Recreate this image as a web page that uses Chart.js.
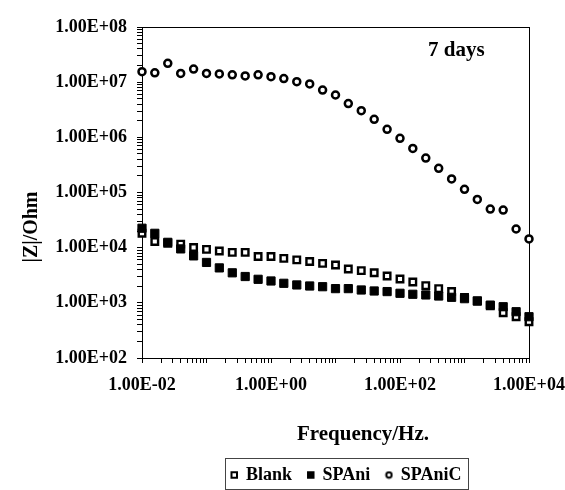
<!DOCTYPE html>
<html><head><meta charset="utf-8">
<script src="https://cdn.jsdelivr.net/npm/chart.js@4.4.1/dist/chart.umd.min.js"></script>
<style>html,body{margin:0;padding:0;background:#fff;}#wrap{width:565px;height:490px;position:relative;}</style>
</head><body><div id="wrap"><canvas id="c" width="565" height="490"></canvas></div>
<script>
// ---- data ----
const frequencies = [0.01, 0.0158, 0.0251, 0.0398, 0.0631, 0.1, 0.158, 0.251, 0.398, 0.631, 1, 1.58, 2.51, 3.98, 6.31, 10, 15.8, 25.1, 39.8, 63.1, 100, 158, 251, 398, 631, 1000, 1580, 2510, 3980, 6310, 10000];
const blank  = [18200, 12900, 12000, 11600, 10100, 9300, 8700, 8200, 8200, 6900, 6900, 6400, 6000, 5600, 5200, 4850, 4100, 3830, 3500, 3070, 2710, 2390, 2050, 1810, 1600, 1250, 1080, 880, 660, 560, 455];
const spani  = [22500, 18200, 12500, 9500, 7100, 5400, 4300, 3500, 3000, 2670, 2490, 2260, 2110, 2020, 1960, 1810, 1810, 1710, 1640, 1600, 1490, 1430, 1390, 1330, 1260, 1190, 1080, 910, 850, 690, 560];
const spanic = [15500000, 14800000, 22000000, 14400000, 17300000, 14400000, 14100000, 13600000, 13000000, 13600000, 12600000, 11600000, 10200000, 9300000, 7200000, 5850000, 4100000, 3040000, 2120000, 1400000, 960000, 630000, 420000, 274000, 176000, 114000, 75000, 50000, 48000, 21800, 14400];
const seriesNames = ['Blank', 'SPAni', 'SPAniC'];
const xRange = [0.01, 10000];
const yRange = [100, 100000000];
const xLabelEvery = 2;   // x labels on every second decade
const xTitle = 'Frequency/Hz.';
const yTitle = '|Z|/Ohm';
const note = '7 days';

const FONT = "'Liberation Serif', 'Times New Roman', serif";

function isPow10(v) { const l = Math.log10(v); return Math.abs(l - Math.round(l)) < 1e-9; }
function sci(v) {
  const e = Math.round(Math.log10(v));
  const m = v / Math.pow(10, e);
  return m.toFixed(2) + 'E' + (e < 0 ? '-' : '+') + String(Math.abs(e)).padStart(2, '0');
}
function logTicks(scale) {
  const lo = Math.round(Math.log10(scale.min)), hi = Math.round(Math.log10(scale.max));
  const t = [];
  for (let e = lo; e < hi; e++) for (let m = 1; m <= 9; m++) t.push({value: Number((m * Math.pow(10, e)).toPrecision(6))});
  t.push({value: Math.pow(10, hi)});
  scale.ticks = t;
}
const toXY = (vals) => frequencies.map((f, i) => ({x: f, y: vals[i]}));

// small legend symbol for the circle series
const circleIcon = (() => {
  const c = document.createElement('canvas'); c.width = 9; c.height = 9;
  const g = c.getContext('2d');
  g.fillStyle = '#fff'; g.strokeStyle = '#000'; g.lineWidth = 2;
  g.beginPath(); g.arc(4.5, 4.5, 2.7, 0, Math.PI * 2); g.fill(); g.stroke();
  return c;
})();

const deco = {
  id: 'deco',
  afterLayout(chart) {
    const lg = chart.legend;
    if (!lg || !lg.lineWidths) return;
    const p = lg.options.labels.padding;
    const W = lg.right - lg.left;
    const newLeft = 231.5 - (p + W - lg.lineWidths[0]) / 2;
    const dx = newLeft - lg.left;
    lg.left += dx; lg.right += dx;
    const fs = lg.options.labels.font.size;
    const dy = (475 - fs / 2 - p) - lg.top;
    lg.top += dy; lg.bottom += dy;
  },
  beforeDatasetsDraw(chart) {
    const {ctx, chartArea: a} = chart;
    ctx.save();
    ctx.strokeStyle = '#000'; ctx.lineWidth = 1;
    ctx.strokeRect(Math.round(a.left) + 0.5, Math.round(a.top) + 0.5, Math.round(a.right - a.left), Math.round(a.bottom - a.top));
    ctx.restore();
  },
  afterDraw(chart) {
    const ctx = chart.ctx;
    ctx.save();
    ctx.fillStyle = '#000';
    ctx.font = 'bold 21px ' + FONT;
    ctx.textAlign = 'center'; ctx.textBaseline = 'alphabetic';
    ctx.fillText(xTitle, 363, 440);
    ctx.textAlign = 'left';
    ctx.fillText(note, 428, 56);
    ctx.font = 'bold 20px ' + FONT;
    ctx.translate(32, 227); ctx.rotate(-Math.PI / 2);
    ctx.textAlign = 'center'; ctx.textBaseline = 'middle';
    ctx.fillText(yTitle, 0, 0);
    ctx.restore();
    const lg = chart.legend;
    if (lg && lg.legendHitBoxes && lg.legendHitBoxes.length) {
      const hb = lg.legendHitBoxes, last = hb[hb.length - 1];
      ctx.save();
      ctx.strokeStyle = '#444'; ctx.lineWidth = 1;
      const l = Math.round(hb[0].left - 7), r = Math.round(last.left + last.width + 7);
      ctx.strokeRect(l + 0.5, 458.5, r - l, 31);
      ctx.restore();
    }
  }
};

new Chart(document.getElementById('c'), {
  type: 'line',
  data: {
    datasets: [
      {label: seriesNames[0], data: toXY(blank), showLine: false, pointStyle: 'rect', pointRadius: 4.6, pointBorderWidth: 2.4, backgroundColor: '#fff', borderColor: '#000', borderWidth: 2, pointBackgroundColor: '#fff', pointBorderColor: '#000', clip: false, order: 2},
      {label: seriesNames[1], data: toXY(spani), showLine: false, pointStyle: 'rect', pointRadius: 5.8, pointBorderWidth: 1, backgroundColor: '#000', borderColor: '#000', borderWidth: 2, pointBackgroundColor: '#000', pointBorderColor: '#000', clip: false, order: 1},
      {label: seriesNames[2], data: toXY(spanic), showLine: false, pointStyle: 'circle', pointRadius: 3.5, pointBorderWidth: 2.5, backgroundColor: '#fff', borderColor: '#000', borderWidth: 2, pointBackgroundColor: '#fff', pointBorderColor: '#000', clip: false, order: 0}
    ]
  },
  options: {
    responsive: false, animation: false, devicePixelRatio: 1,
    layout: {padding: {left: 0, top: 27, right: 36, bottom: 0}},
    scales: {
      x: {
        type: 'logarithmic', position: 'bottom', min: xRange[0], max: xRange[1],
        afterBuildTicks: logTicks,
        afterFit: (s) => { s.height = 132 - (s.chart.legend ? s.chart.legend.height : 0); s.paddingLeft = 0; s.paddingRight = 0; },
        grid: {display: true, drawOnChartArea: false, drawTicks: true, tickLength: 5, color: '#000', tickColor: '#000'},
        border: {display: true, color: '#000', width: 1},
        ticks: {autoSkip: false, maxRotation: 0, minRotation: 0, padding: 12, color: '#000', font: {family: FONT, size: 18, weight: 'bold'},
          callback: (v) => (isPow10(v) && Math.round(Math.log10(v)) % xLabelEvery === 0) ? sci(v) : ''}
      },
      y: {
        type: 'logarithmic', position: 'left', min: yRange[0], max: yRange[1],
        afterBuildTicks: logTicks,
        afterFit: (s) => { s.width = 142; s.paddingTop = 0; s.paddingBottom = 0; },
        grid: {display: true, drawOnChartArea: false, drawTicks: true, tickLength: 5, color: '#000', tickColor: '#000'},
        border: {display: true, color: '#000', width: 1},
        ticks: {autoSkip: false, padding: 10, color: '#000', font: {family: FONT, size: 18, weight: 'bold'},
          callback: (v) => isPow10(v) ? sci(v) : ''}
      }
    },
    plugins: {
      tooltip: {enabled: false},
      legend: {
        display: true, position: 'bottom',
        labels: {
          usePointStyle: true, boxWidth: 5.5, boxHeight: 5.5, padding: 16, color: '#000',
          font: {family: FONT, size: 18, weight: 'bold'},
          sort: (a, b) => a.datasetIndex - b.datasetIndex,
          generateLabels: (chart) => {
            const items = Chart.defaults.plugins.legend.labels.generateLabels(chart);
            const lw = [2, 2, 1.8];
            items.forEach(it => {
              it.lineWidth = lw[it.datasetIndex];
              if (it.datasetIndex === 2) it.pointStyle = circleIcon;
            });
            return items;
          }
        }
      }
    }
  },
  plugins: [deco]
});
</script></body></html>
